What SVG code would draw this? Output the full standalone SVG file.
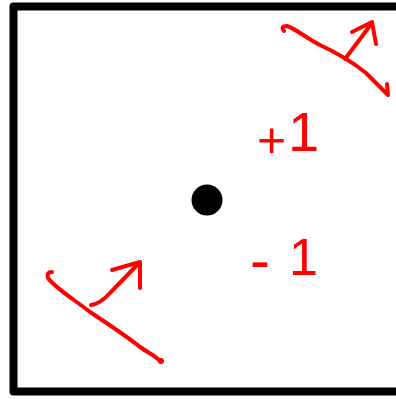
<svg xmlns="http://www.w3.org/2000/svg" width="396" height="399" viewBox="0 0 396 399">
<style>
.ink{fill:none;stroke:#ff0000;stroke-width:4;stroke-linecap:round;stroke-linejoin:round}
.lbl{fill:#ff0000;font-family:"Liberation Sans",Arial,sans-serif}
</style>
<rect x="0" y="0" width="396" height="399" fill="#ffffff"/>
<g id="frame">
<path d="M410,6.5 L13.5,6.5 L13.5,391.5 L410,391.5" fill="none" stroke="#000" stroke-width="8" stroke-linejoin="round"/>
</g>
<g id="charge">
<circle cx="207" cy="200" r="15.5" fill="#000"/>
</g>
<g id="label-plus">
<text class="lbl" font-size="56"><tspan x="257" y="157" font-size="50">+</tspan><tspan x="288" y="151">1</tspan></text>
</g>
<g id="label-minus">
<text class="lbl" font-size="52"><tspan x="250" y="280" font-size="60">-</tspan><tspan x="289" y="275">1</tspan></text>
</g>
<g id="connectors">
<g id="surface-top">
<path class="ink" d="M284,31 Q280,26 287,26 C296,29 306,38 320,45 C335,52 350,60 366,73 L388,95 L387,84"/>
<path class="ink" d="M345,59 L372,23 M352,32 L372,22 L376,44"/>
</g>
<g id="surface-bottom">
<path class="ink" d="M52,272 Q46,272 48,278 C55,288 75,300 90,312 C105,322 125,335 140,347 C150,354 156,356 161,362"/>
<circle cx="161" cy="361" r="3" fill="#ff0000"/>
<path class="ink" d="M91,305 Q100,304 110,293 L140,262 M112,270 L140,262 L140,288"/>
</g>
</g>
</svg>
